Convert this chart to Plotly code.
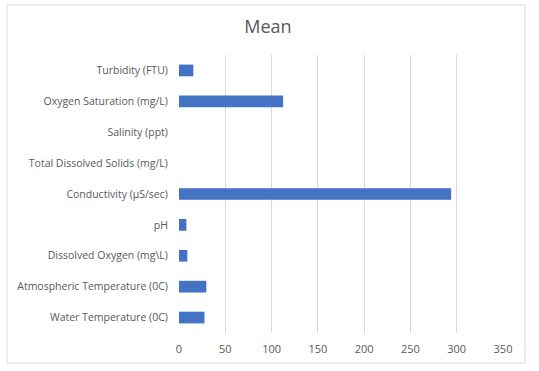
import plotly.graph_objects as go

categories = [
    "Water Temperature (0C)",
    "Atmospheric Temperature (0C)",
    "Dissolved Oxygen (mg\\L)",
    "pH",
    "Conductivity (µS/sec)",
    "Total Dissolved Solids (mg/L)",
    "Salinity (ppt)",
    "Oxygen Saturation (mg/L)",
    "Turbidity (FTU)",
]
means = [27.5, 29.5, 9.0, 8.0, 294.0, 0.0, 0.0, 112.5, 15.5]
x_ticks = [0, 50, 100, 150, 200, 250, 300, 350]

font_family = "Open Sans, Liberation Sans, sans-serif"
label_color = "#595959"

fig = go.Figure(
    go.Bar(
        y=categories,
        x=means,
        orientation="h",
        marker=dict(color="#4472C4", line=dict(width=0)),
        width=0.38,
    )
)

fig.update_layout(
    width=539,
    height=371,
    margin=dict(l=179, r=36, t=55, b=38, autoexpand=False),
    paper_bgcolor="white",
    plot_bgcolor="white",
    showlegend=False,
    title=dict(
        text="Mean",
        x=0.497,
        xanchor="center",
        y=0.927,
        yanchor="middle",
        font=dict(family=font_family, size=18, color=label_color),
    ),
    font=dict(family=font_family, size=11, color=label_color),
    bargap=0.6,
    shapes=[
        dict(
            type="rect",
            xref="paper",
            yref="paper",
            x0=-0.531,
            x1=1.068,
            y0=-0.108,
            y1=1.18,
            line=dict(color="#d9d9d9", width=1),
            fillcolor="rgba(0,0,0,0)",
            layer="below",
        )
    ],
)

fig.update_xaxes(
    range=[0, 350],
    tickvals=x_ticks,
    ticktext=[str(v) for v in x_ticks],
    showgrid=True,
    gridcolor="#d9d9d9",
    gridwidth=1,
    zeroline=False,
    showline=False,
    automargin=False,
    ticks="outside",
    ticklen=6,
    tickcolor="rgba(0,0,0,0)",
    tickfont=dict(size=11, color=label_color),
)

fig.update_yaxes(
    categoryorder="array",
    categoryarray=categories,
    showgrid=False,
    zeroline=False,
    showline=False,
    automargin=False,
    ticks="outside",
    ticklen=8,
    tickcolor="rgba(0,0,0,0)",
    tickfont=dict(size=10.5, color=label_color),
)

fig.write_html(
    "out.html",
    config={"displayModeBar": False},
    post_script="document.body.style.margin='0';document.body.style.overflow='hidden';",
)
